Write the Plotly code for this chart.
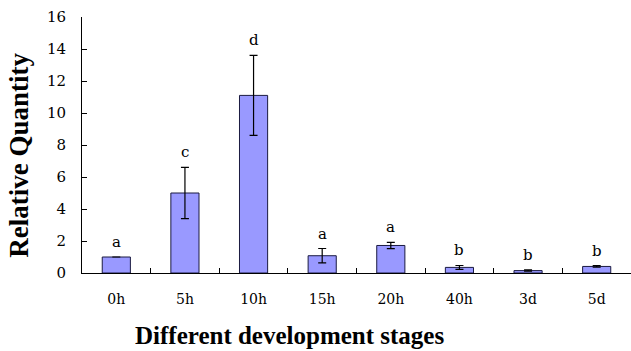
import plotly.graph_objects as go

# Expression level at each development stage
stages = ["0h", "5h", "10h", "15h", "20h", "40h", "3d", "5d"]
quantity = [1.0, 5.0, 11.1, 1.08, 1.72, 0.35, 0.15, 0.41]
error = [0.0, 1.6, 2.5, 0.45, 0.2, 0.12, 0.04, 0.05]
groups = ["a", "c", "d", "a", "a", "b", "b", "b"]

serif = "Liberation Serif"
tickserif = "DejaVu Serif"

fig = go.Figure()
fig.add_trace(go.Bar(
    x=stages,
    y=quantity,
    width=0.41,
    marker=dict(color="#9999FF", line=dict(color="#1a1a40", width=1)),
    error_y=dict(type="data", array=error, visible=True,
                 color="black", thickness=1.2, width=4),
    hoverinfo="x+y",
))

# Significance letters above each bar / error bar
for s, q, e, g in zip(stages, quantity, error, groups):
    fig.add_annotation(
        x=s, y=q + e, text=g, showarrow=False,
        yanchor="bottom", yshift=4,
        font=dict(family=tickserif, size=15, color="black"),
    )

fig.add_annotation(
    xref="paper", yref="paper", x=-0.145, y=0.46,
    text="<b>Relative Quantity</b>", textangle=-90, showarrow=False,
    font=dict(family=serif, size=27, color="black"),
)
fig.add_annotation(
    xref="paper", yref="paper", x=0.093, xanchor="left", y=-0.245, yanchor="middle",
    text="<b>Different development stages</b>", showarrow=False,
    font=dict(family=serif, size=25, color="black"),
)

fig.update_layout(
    width=631, height=351,
    margin=dict(l=82, r=0, t=17, b=78),
    paper_bgcolor="white", plot_bgcolor="white",
    showlegend=False,
    bargap=0.59,
)
fig.update_xaxes(
    showline=True, linecolor="black", linewidth=1,
    ticks="inside", ticklen=5, tickcolor="black",
    tickson="boundaries", ticklabelstandoff=13,
    tickfont=dict(family=tickserif, size=14, color="black"),
    showgrid=False, zeroline=False,
)
fig.update_yaxes(
    range=[0, 16], dtick=2,
    showline=True, linecolor="black", linewidth=1,
    ticks="inside", ticklen=5, tickcolor="black",
    ticklabelstandoff=12,
    tickfont=dict(family=tickserif, size=15, color="black"),
    showgrid=False, zeroline=False,
)

fig.write_html("out.html")
